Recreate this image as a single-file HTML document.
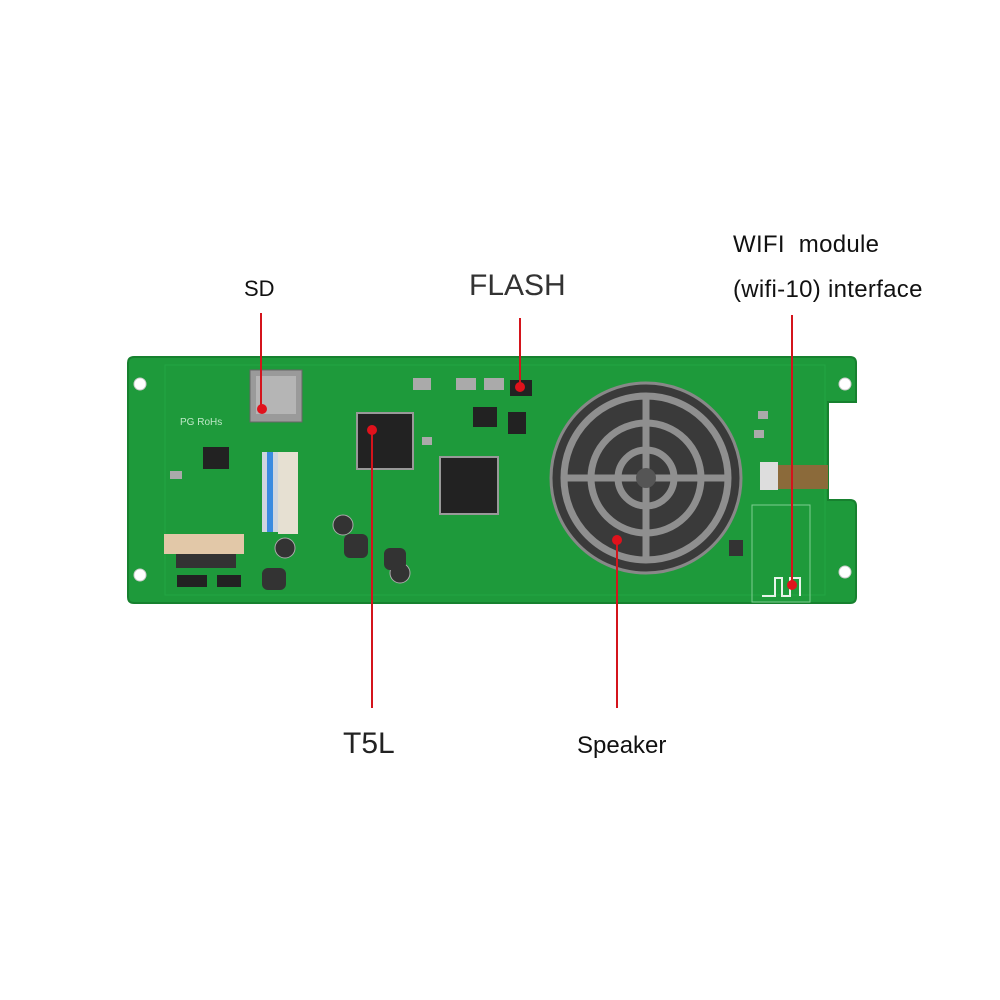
<!DOCTYPE html>
<html><head><style>
html,body{margin:0;padding:0;background:#fff;}
.l{position:absolute;font-family:"Liberation Sans",sans-serif;color:#111;white-space:nowrap;}
</style></head><body>
<div style="position:relative;width:1000px;height:1000px;overflow:hidden">
<svg width="1000" height="1000" style="position:absolute;left:0;top:0">
<path d="M134,357 H850 Q856,357 856,363 V402 H828 V500 H850 Q856,500 856,506 V597 Q856,603 850,603 H134 Q128,603 128,597 V363 Q128,357 134,357 Z" fill="#1e9a3b"/>
<path d="M134,357 H850 Q856,357 856,363 V402 H828 V500 H850 Q856,500 856,506 V597 Q856,603 850,603 H134 Q128,603 128,597 V363 Q128,357 134,357 Z" fill="none" stroke="#17812f" stroke-width="2"/>
<rect x="165" y="365" width="660" height="230" fill="none" stroke="#23a543" stroke-width="1"/>
<circle cx="140" cy="384" r="6" fill="#fff" stroke="#ccc"/>
<circle cx="140" cy="575" r="6" fill="#fff" stroke="#ccc"/>
<circle cx="845" cy="384" r="6" fill="#fff" stroke="#ccc"/>
<circle cx="845" cy="572" r="6" fill="#fff" stroke="#ccc"/>
<rect x="250" y="370" width="52" height="52" fill="#9a9a9a" stroke="#666"/>
<rect x="256" y="376" width="40" height="38" fill="#b5b5b5"/>
<text x="180" y="425" font-family="Liberation Sans" font-size="10" fill="#bde8c6">PG RoHs</text>
<rect x="357" y="413" width="56" height="56" fill="#222" stroke="#999" stroke-width="2"/>
<rect x="440" y="457" width="58" height="57" fill="#222" stroke="#999" stroke-width="2"/>
<rect x="473" y="407" width="24" height="20" fill="#222"/>
<rect x="508" y="412" width="18" height="22" fill="#222"/>
<rect x="510" y="380" width="22" height="16" fill="#222"/>
<rect x="203" y="447" width="26" height="22" fill="#222"/>
<rect x="262" y="452" width="16" height="80" fill="#cfd6e0"/>
<rect x="267" y="452" width="6" height="80" fill="#3a8be0"/>
<rect x="278" y="452" width="20" height="82" fill="#e6e0d2"/>
<rect x="164" y="534" width="80" height="20" fill="#e2c8a8"/>
<rect x="176" y="554" width="60" height="14" fill="#333"/>
<circle cx="343" cy="525" r="10" fill="#333" stroke="#aaa"/>
<circle cx="400" cy="573" r="10" fill="#333" stroke="#aaa"/>
<circle cx="285" cy="548" r="10" fill="#333" stroke="#aaa"/>
<rect x="344" y="534" width="24" height="24" rx="6" fill="#333"/>
<rect x="384" y="548" width="22" height="22" rx="6" fill="#333"/>
<rect x="262" y="568" width="24" height="22" rx="6" fill="#333"/>
<rect x="177" y="575" width="30" height="12" fill="#222"/>
<rect x="217" y="575" width="24" height="12" fill="#222"/>
<g fill="#aaa">
<rect x="170" y="471" width="12" height="8"/><rect x="413" y="378" width="18" height="12"/><rect x="456" y="378" width="20" height="12"/>
<rect x="484" y="378" width="20" height="12"/><rect x="422" y="437" width="10" height="8"/><rect x="754" y="430" width="10" height="8"/>
<rect x="758" y="411" width="10" height="8"/><rect x="729" y="540" width="14" height="16" fill="#333"/>
</g>
<circle cx="646" cy="478" r="95" fill="#3a3a3a" stroke="#888" stroke-width="3"/>
<g fill="none" stroke="#8f8f8f" stroke-width="7">
<circle cx="646" cy="478" r="82"/>
<circle cx="646" cy="478" r="55"/>
<circle cx="646" cy="478" r="28"/>
<line x1="646" y1="393" x2="646" y2="563"/>
<line x1="561" y1="478" x2="731" y2="478"/>
</g>
<circle cx="646" cy="478" r="10" fill="#555"/>
<rect x="752" y="505" width="58" height="97" fill="none" stroke="#7fcf90" stroke-width="1"/>
<rect x="770" y="465" width="58" height="24" fill="#8b6a3a"/>
<rect x="760" y="462" width="18" height="28" fill="#ddd"/>
<path d="M762,596 H775 V578 H782 V596 H790 V578 H800 V596" fill="none" stroke="#e8f4ea" stroke-width="2"/>
<g stroke="#d4141c" stroke-width="2">
<line x1="261" y1="313" x2="261" y2="408"/>
<line x1="520" y1="318" x2="520" y2="386"/>
<line x1="372" y1="430" x2="372" y2="708"/>
<line x1="617" y1="540" x2="617" y2="708"/>
<line x1="792" y1="315" x2="792" y2="585"/>
</g>
<g fill="#e0121c">
<circle cx="262" cy="409" r="5"/>
<circle cx="520" cy="387" r="5"/>
<circle cx="372" cy="430" r="5"/>
<circle cx="617" cy="540" r="5"/>
<circle cx="792" cy="585" r="5"/>
</g>
</svg>
<div class="l" style="left:244px;top:276px;font-size:22px">SD</div>
<div class="l" style="left:469px;top:269px;font-size:30px;color:#333">FLASH</div>
<div class="l" style="left:733px;top:231px;font-size:24px;letter-spacing:0.3px">WIFI&nbsp; module</div>
<div class="l" style="left:733px;top:276px;font-size:24px;letter-spacing:0.3px">(wifi-10) interface</div>
<div class="l" style="left:343px;top:727px;font-size:30px;color:#222">T5L</div>
<div class="l" style="left:577px;top:732px;font-size:24px">Speaker</div>
</div>
</body></html>
